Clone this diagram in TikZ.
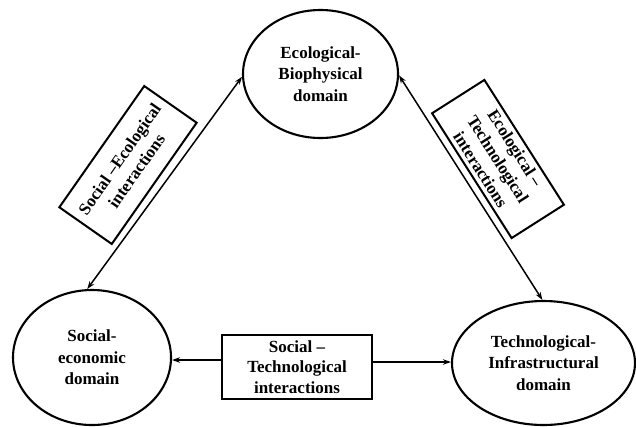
\documentclass[tikz,border=0pt]{standalone}
\usepackage{fontspec}
\setmainfont{Liberation Serif}
\usetikzlibrary{shapes.geometric,arrows.meta}
\begin{document}
\begin{tikzpicture}[x=1pt,y=-1pt,
  domainnode/.style={ellipse,draw,line width=2.1pt,inner sep=0pt,align=center,
    font=\fontsize{17}{21.5}\selectfont\bfseries},
  linkbox/.style={rectangle,draw,line width=2pt,inner sep=0pt,align=center,
    font=\fontsize{17}{20.5}\selectfont\bfseries},
  tip/.tip={Stealth[length=8pt,width=5.5pt]},
  link/.style={line width=1.5pt,-tip},
  biglink/.style={line width=1.5pt,tip-tip}]
\useasboundingbox (0,0) rectangle (636,426);

% domains
\node[domainnode,minimum width=155pt,minimum height=128pt] (eco) at (320.5,74)
  {Ecological-\\Biophysical\\domain};
\node[domainnode,minimum width=158pt,minimum height=135pt] (soc) at (92,357.5)
  {Social-\\economic\\domain};
\node[domainnode,minimum width=183pt,minimum height=124pt] (tec) at (543.5,363)
  {Technological-\\Infrastructural\\domain};

% interaction labels
\node[linkbox,minimum width=148pt,minimum height=64pt,rotate=55] (se) at (128,165)
  {Social –Ecological\\interactions};
\node[linkbox,minimum width=148pt,minimum height=62pt,rotate=-57.5] (et) at (498,159)
  {Ecological –\\Technological\\interactions};
\node[linkbox,minimum width=150pt,minimum height=64pt] (st) at (297,367)
  {Social –\\Technological\\interactions};

% connectors
\draw[biglink] (eco.182) -- (soc.94);
\draw[biglink] (eco.-1) -- (tec.91);
\path ([yshift=7pt]st.west) coordinate (stw) ([yshift=5pt]st.east) coordinate (ste);
\draw[link] (stw) -- (stw -| soc.east);
\draw[link] (ste) -- (ste -| tec.west);
\end{tikzpicture}
\end{document}
